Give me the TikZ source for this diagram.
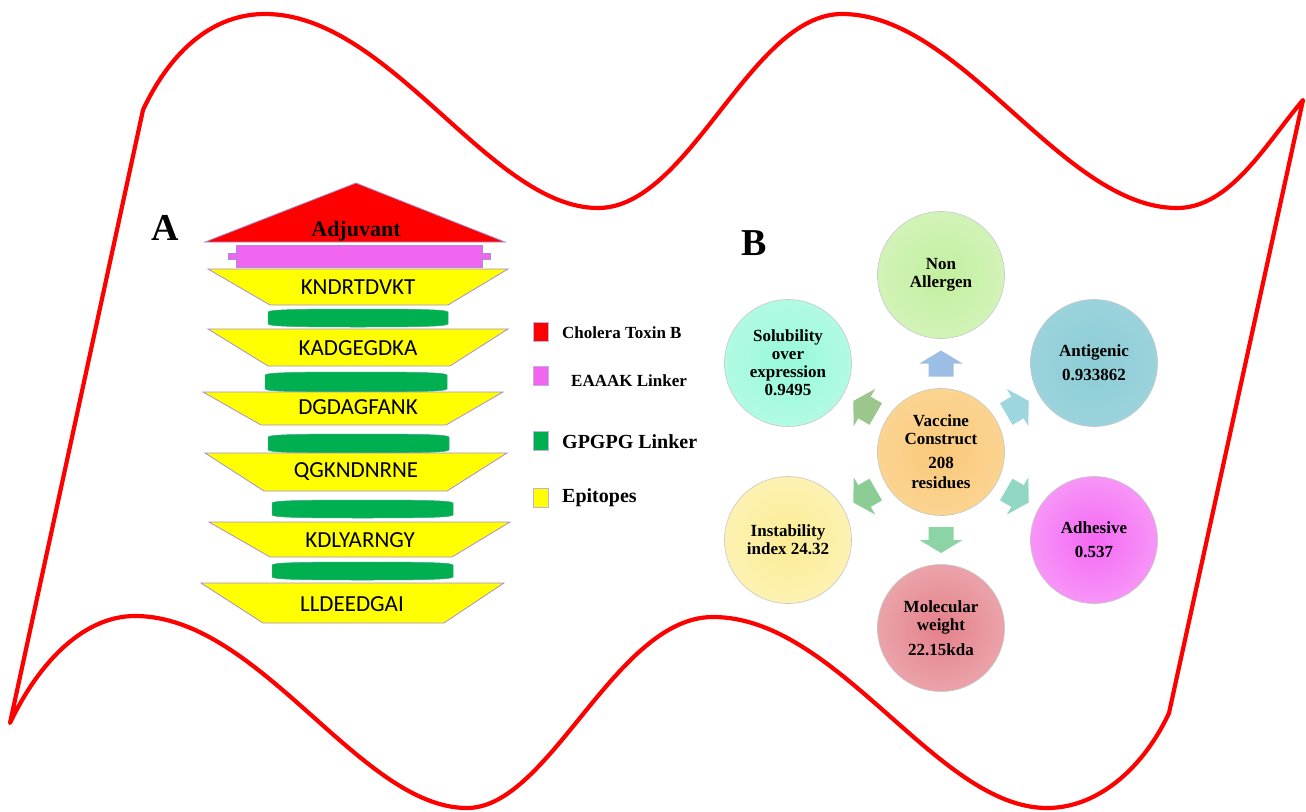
\documentclass[tikz,border=0pt]{standalone}
\usepackage{fontspec}
\setmainfont{Liberation Serif}
\newfontfamily\calibfont{Carlito}
\usetikzlibrary{calc}
\definecolor{flagred}{RGB}{255,0,0}
\definecolor{adjred}{RGB}{255,0,0}
\definecolor{eaaakpink}{RGB}{240,102,240}
\definecolor{gpgreen}{RGB}{0,176,80}
\definecolor{epiyellow}{RGB}{255,255,0}
\definecolor{edgepurple}{RGB}{170,140,210}
\definecolor{naIn}{RGB}{194,240,158}\definecolor{naOut}{RGB}{226,246,210}
\definecolor{agIn}{RGB}{140,204,214}\definecolor{agOut}{RGB}{170,218,226}
\definecolor{soIn}{RGB}{150,250,218}\definecolor{soOut}{RGB}{206,250,236}
\definecolor{vcIn}{RGB}{250,200,122}\definecolor{vcOut}{RGB}{252,224,168}
\definecolor{inIn}{RGB}{252,236,148}\definecolor{inOut}{RGB}{253,247,208}
\definecolor{adIn}{RGB}{244,104,244}\definecolor{adOut}{RGB}{250,194,250}
\definecolor{mwIn}{RGB}{228,128,138}\definecolor{mwOut}{RGB}{241,198,200}
\definecolor{arrUp}{RGB}{157,190,228}
\definecolor{arrUR}{RGB}{158,214,224}
\definecolor{arrLR}{RGB}{145,215,195}
\definecolor{arrDn}{RGB}{140,212,165}
\definecolor{arrLL}{RGB}{140,205,150}
\definecolor{arrUL}{RGB}{155,198,140}
\pgfdeclareradialshading{naShade}{\pgfpoint{0bp}{0bp}}{color(0bp)=(naIn); color(50bp)=(naOut)}
\pgfdeclareradialshading{agShade}{\pgfpoint{0bp}{0bp}}{color(0bp)=(agIn); color(50bp)=(agOut)}
\pgfdeclareradialshading{soShade}{\pgfpoint{0bp}{0bp}}{color(0bp)=(soIn); color(50bp)=(soOut)}
\pgfdeclareradialshading{vcShade}{\pgfpoint{0bp}{0bp}}{color(0bp)=(vcIn); color(50bp)=(vcOut)}
\pgfdeclareradialshading{inShade}{\pgfpoint{0bp}{0bp}}{color(0bp)=(inIn); color(50bp)=(inOut)}
\pgfdeclareradialshading{adShade}{\pgfpoint{0bp}{0bp}}{color(0bp)=(adIn); color(50bp)=(adOut)}
\pgfdeclareradialshading{mwShade}{\pgfpoint{0bp}{0bp}}{color(0bp)=(mwIn); color(50bp)=(mwOut)}
\newcommand\linkbar[4]{%
  \path[fill=gpgreen, draw=gpgreen!70!edgepurple, line width=0.5pt]
    (#1,#4-3) -- (#1,#3+3)
    .. controls (#1+1.5,#3+0.6) and (#1+30,#3) .. ({(#1+#2)/2},#3)
    .. controls (#2-30,#3) and (#2-1.5,#3+0.6) .. (#2,#3+3)
    -- (#2,#4-3)
    .. controls (#2-1.5,#4-0.6) and (#2-30,#4) .. ({(#1+#2)/2},#4)
    .. controls (#1+30,#4) and (#1+1.5,#4-0.6) .. (#1,#4-3) -- cycle;}
\tikzset{
  flag/.style={draw=flagred, line width=4.2pt, line join=round},
  epi/.style={fill=epiyellow, draw=edgepurple, line width=0.8pt},
  epitext/.style={font=\calibfont\fontsize{23}{26}\selectfont, inner sep=0pt},
  legsq/.style={minimum width=15pt, minimum height=19pt, inner sep=0pt, draw=edgepurple!70, line width=0.6pt},
  legtext/.style={anchor=base west, inner sep=0pt, font=\bfseries\fontsize{17}{20}\selectfont},
  legtextbig/.style={anchor=base west, inner sep=0pt, font=\bfseries\fontsize{20}{22}\selectfont},
  prop/.style={circle, minimum size=127pt, inner sep=0pt, draw=black!22, line width=0.6pt,
    align=center, font=\bfseries\fontsize{17}{18}\selectfont, shade},
  panel/.style={anchor=base west, inner sep=0pt, font=\bfseries\fontsize{38}{40}\selectfont},
  pics/barrow/.style={code={\fill[#1] (-13,-12.5) -- (0,-12.5) -- (0,-21.5) -- (13,0) -- (0,21.5) -- (0,12.5) -- (-13,12.5) -- cycle;}}
}
\begin{document}
\begin{tikzpicture}[x=1pt,y=-1pt]
\useasboundingbox (0,0) rectangle (1306,811);
% flag outline
\path[flag] (143,110) .. controls (172,48) and (215,14) .. (265,14)
  .. controls (390,14) and (490,208) .. (598,208)
  .. controls (690,208) and (750,14) .. (842,14)
  .. controls (962,14) and (1062,208) .. (1177,208)
  .. controls (1230,208) and (1265,145) .. (1303,100)
  -- (1169,713)
  .. controls (1145,765) and (1100,808) .. (1047,808)
  .. controls (937,808) and (838,617) .. (713,617)
  .. controls (615,617) and (550,808) .. (467,808)
  .. controls (360,808) and (260,616) .. (135,616)
  .. controls (85,616) and (40,660) .. (10,723)
  -- cycle;
% panel A
\node[panel] (labA) at (151,240) {A};
\path[fill=adjred, draw=edgepurple, line width=0.8pt] (205,242) -- (356,183) -- (505,242) -- cycle;
\node[font=\bfseries\fontsize{22}{24}\selectfont, inner sep=0pt] (adj) at (356,231) {Adjuvant};
\path[fill=eaaakpink, draw=edgepurple, line width=0.6pt] (228,253) rectangle (490,259);
\path[fill=eaaakpink, draw=edgepurple, line width=0.6pt] (236,245) rectangle (482,267);
\path[fill=eaaakpink] (237,253.5) rectangle (481,258.5);
% epitopes and linkers
\path[epi] (208,269) -- (508,269) -- (448,305) -- (270,305) -- cycle;
\node[epitext] (e1) at (358,287) {KNDRTDVKT};
\linkbar{268}{448}{309}{327}
\path[epi] (208,329) -- (508,329) -- (450,366) -- (268,366) -- cycle;
\node[epitext] (e2) at (358,348) {KADGEGDKA};
\linkbar{265}{447}{372}{392}
\path[epi] (203,392) -- (503,392) -- (446,425) -- (261,425) -- cycle;
\node[epitext] (e3) at (358,407) {DGDAGFANK};
\linkbar{268}{449}{434}{453}
\path[epi] (205,453) -- (507,453) -- (447,491) -- (264,491) -- cycle;
\node[epitext] (e4) at (356,472) {QGKNDNRNE};
\linkbar{272}{453}{500}{518}
\path[epi] (209,522) -- (510,522) -- (452,557) -- (270,557) -- cycle;
\node[epitext] (e5) at (360,540) {KDLYARNGY};
\linkbar{272}{453}{562}{580}
\path[epi] (201,583) -- (504,583) -- (444,623) -- (263,623) -- cycle;
\node[epitext] (e6) at (352,604) {LLDEEDGAI};
% legend
\node[legsq, fill=adjred] (l1) at (540.5,331.5) {};
\node[legtext] (t1) at (562,338) {Cholera Toxin B};
\node[legsq, fill=eaaakpink] (l2) at (540.5,376) {};
\node[legtext] (t2) at (571,386) {EAAAK Linker};
\node[legsq, fill=gpgreen] (l3) at (540.5,441) {};
\node[legtextbig] (t3) at (562,448) {GPGPG Linker};
\node[legsq, fill=epiyellow] (l4) at (540.5,498) {};
\node[legtextbig] (t4) at (562,502) {Epitopes};
% panel B
\node[panel] (labB) at (741,255) {B};
\node[prop, shading=vcShade] (vc) at (941,452) {Vaccine\\Construct\\[6pt]208\\[2pt]residues};
\node[prop, shading=naShade] (na) at (941,275) {Non\\Allergen};
\node[prop, shading=agShade] (ag) at (1094,363) {Antigenic\\[6pt]0.933862};
\node[prop, shading=soShade] (so) at (788,363) {Solubility\\over\\expression\\0.9495};
\node[prop, shading=inShade] (in) at (788,540) {Instability\\index 24.32};
\node[prop, shading=adShade] (ad) at (1094,540) {Adhesive\\[6pt]0.537};
\node[prop, shading=mwShade] (mw) at (941,628) {Molecular\\weight\\[7pt]22.15kda};
% block arrows
\pic[rotate=90] at ($(vc)!0.5!(na)$) {barrow=arrUp};
\pic[rotate=30] at ($(vc)!0.5!(ag)$) {barrow=arrUR};
\pic[rotate=-30] at ($(vc)!0.5!(ad)$) {barrow=arrLR};
\pic[rotate=-90] at ($(vc)!0.5!(mw)$) {barrow=arrDn};
\pic[rotate=210] at ($(vc)!0.5!(in)$) {barrow=arrLL};
\pic[rotate=150] at ($(vc)!0.5!(so)$) {barrow=arrUL};
\end{tikzpicture}
\end{document}
